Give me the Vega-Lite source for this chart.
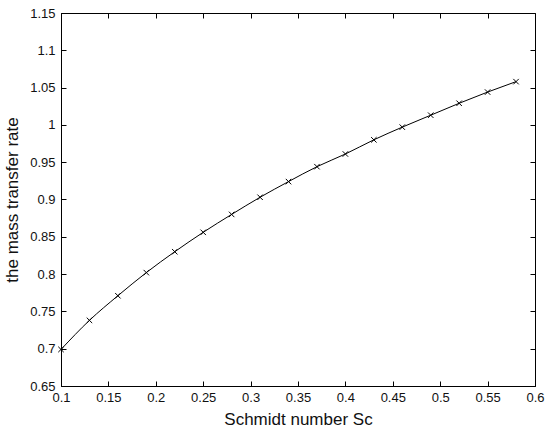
{
  "$schema": "https://vega.github.io/schema/vega-lite/v6.json",
  "width": 474,
  "height": 373,
  "autosize": {"type": "none"},
  "padding": {"left": 61, "top": 13, "right": 15, "bottom": 47},
  "background": "white",
  "config": {
    "font": "Liberation Sans",
    "view": {"stroke": "black", "strokeWidth": 1},
    "axis": {
      "labelFont": "Liberation Sans",
      "titleFont": "Liberation Sans",
      "labelFontSize": 13,
      "titleFontSize": 17,
      "titleFontWeight": "normal",
      "labelColor": "#111",
      "titleColor": "#111",
      "domainColor": "black",
      "tickColor": "black",
      "grid": false
    }
  },
  "data": {"values": [
    {"Sc": 0.10, "rate": 0.699},
    {"Sc": 0.13, "rate": 0.738},
    {"Sc": 0.16, "rate": 0.771},
    {"Sc": 0.19, "rate": 0.802},
    {"Sc": 0.22, "rate": 0.830},
    {"Sc": 0.25, "rate": 0.856},
    {"Sc": 0.28, "rate": 0.880},
    {"Sc": 0.31, "rate": 0.903},
    {"Sc": 0.34, "rate": 0.924},
    {"Sc": 0.37, "rate": 0.944},
    {"Sc": 0.40, "rate": 0.961},
    {"Sc": 0.43, "rate": 0.980},
    {"Sc": 0.46, "rate": 0.997},
    {"Sc": 0.49, "rate": 1.013},
    {"Sc": 0.52, "rate": 1.029},
    {"Sc": 0.55, "rate": 1.044},
    {"Sc": 0.58, "rate": 1.058}
  ]},
  "layer": [
    {
      "mark": {"type": "line", "color": "black", "strokeWidth": 1, "interpolate": "monotone"},
      "encoding": {
        "x": {"field": "Sc", "type": "quantitative",
          "scale": {"domain": [0.1, 0.6], "nice": false, "zero": false},
          "axis": {"title": "Schmidt number Sc", "values": [0.1,0.15,0.2,0.25,0.3,0.35,0.4,0.45,0.5,0.55,0.6],
            "tickSize": -5, "labelPadding": 10, "titlePadding": 7, "labelFlush": false, "labelOverlap": false, "format": "~g"}},
        "y": {"field": "rate", "type": "quantitative",
          "scale": {"domain": [0.65, 1.15], "nice": false, "zero": false},
          "axis": {"title": "the mass transfer rate", "values": [0.65,0.7,0.75,0.8,0.85,0.9,0.95,1,1.05,1.1,1.15],
            "tickSize": -5, "labelPadding": 11, "titlePadding": 8, "labelFlush": false, "labelOverlap": false, "format": "~g"}}
      }
    },
    {
      "mark": {"type": "point", "shape": "M-1,-1L1,1M1,-1L-1,1", "filled": false, "color": "black", "size": 30, "strokeWidth": 1, "opacity": 1},
      "encoding": {
        "x": {"field": "Sc", "type": "quantitative",
          "scale": {"domain": [0.1, 0.6], "nice": false, "zero": false},
          "axis": {"orient": "top", "title": null, "labels": false, "domain": false, "values": [0.1,0.15,0.2,0.25,0.3,0.35,0.4,0.45,0.5,0.55,0.6], "tickSize": -5}},
        "y": {"field": "rate", "type": "quantitative",
          "scale": {"domain": [0.65, 1.15], "nice": false, "zero": false},
          "axis": {"orient": "right", "title": null, "labels": false, "domain": false, "values": [0.65,0.7,0.75,0.8,0.85,0.9,0.95,1,1.05,1.1,1.15], "tickSize": -5}}
      }
    }
  ],
  "resolve": {"axis": {"x": "independent", "y": "independent"}}
}
